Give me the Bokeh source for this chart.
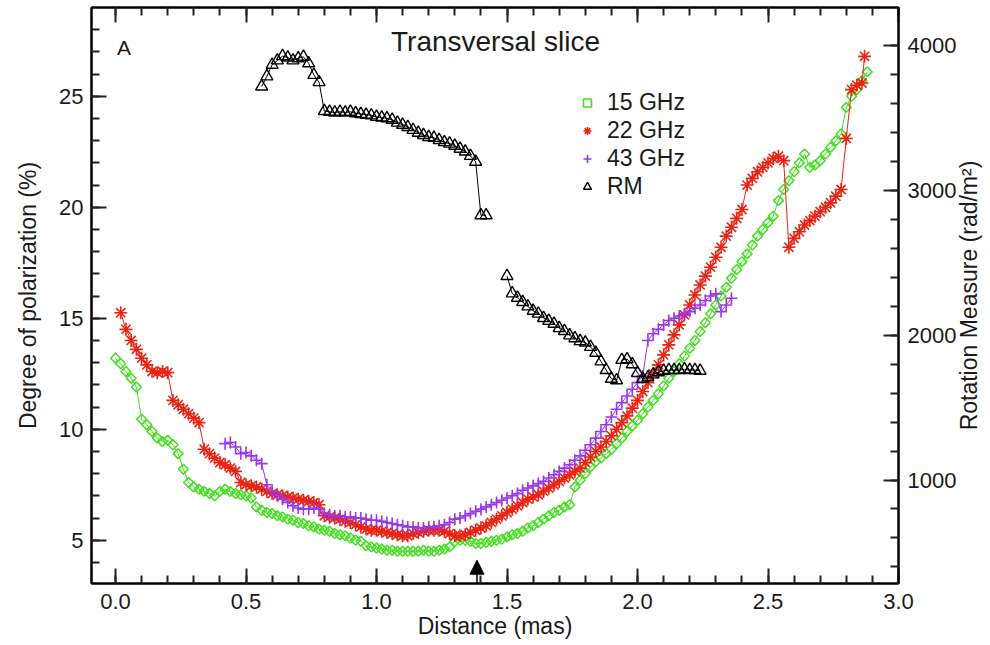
import numpy as np
from bokeh.plotting import figure
from bokeh.models import (Range1d, LinearAxis, FixedTicker, Legend, LegendItem,
                          Label, Arrow, NormalHead, CustomLabelingPolicy)
from bokeh.embed import file_html
from bokeh.resources import INLINE

# ---------------- data ----------------
x15 = [0.00,0.02,0.04,0.06,0.08,0.10,0.12,0.14,0.16,0.18,0.20,0.22,0.24,0.26,0.28,0.30,0.32,0.34,0.36,0.38,
       0.40,0.42,0.44,0.46,0.48,0.50,0.52,0.54,0.56,0.58,0.60,0.62,0.64,0.66,0.68,0.70,0.72,0.74,0.76,0.78,
       0.80,0.82,0.84,0.86,0.88,0.90,0.92,0.94,0.96,0.98,1.00,1.02,1.04,1.06,1.08,1.10,1.12,1.14,1.16,1.18,
       1.20,1.22,1.24,1.26,1.28,1.30,1.32,1.34,1.36,1.38,1.40,1.42,1.44,1.46,1.48,1.50,1.52,1.54,1.56,1.58,
       1.60,1.62,1.64,1.66,1.68,1.70,1.72,1.74,1.76,1.78,1.80,1.82,1.84,1.86,1.88,1.90,1.92,1.94,1.96,1.98,
       2.00,2.02,2.04,2.06,2.08,2.10,2.12,2.14,2.16,2.18,2.20,2.22,2.24,2.26,2.28,2.30,2.32,2.34,2.36,2.38,
       2.40,2.42,2.44,2.46,2.48,2.50,2.52,2.54,2.56,2.58,2.60,2.62,2.64,2.66,2.68,2.70,2.72,2.74,2.76,2.78,
       2.80,2.82,2.84,2.86,2.88]
pol15 = [13.2,12.95,12.6,12.3,11.9,10.45,10.2,9.9,9.6,9.45,9.5,9.3,8.9,8.2,7.6,7.4,7.3,7.2,7.1,7.0,
         7.2,7.3,7.2,7.1,7.05,7.0,6.9,6.5,6.35,6.25,6.2,6.1,6.05,5.95,5.9,5.8,5.75,5.65,5.6,5.5,
         5.45,5.4,5.3,5.25,5.2,5.1,5.0,4.95,4.75,4.7,4.65,4.6,4.55,4.55,4.5,4.5,4.5,4.5,4.5,4.55,
         4.5,4.5,4.55,4.6,4.7,4.95,5.0,5.0,4.95,4.85,4.85,4.9,4.95,5.0,5.05,5.15,5.25,5.3,5.4,5.55,
         5.65,5.8,5.95,6.1,6.25,6.35,6.5,6.6,7.4,7.7,8.0,8.3,8.55,8.7,8.9,9.1,9.35,9.6,9.9,10.15,
         10.4,10.7,11.0,11.3,11.6,11.95,12.3,12.6,12.95,13.3,13.65,14.0,14.4,14.8,15.2,15.6,16.0,16.4,16.8,17.2,
         17.55,17.9,18.3,18.7,19.0,19.3,19.6,20.3,20.8,21.2,21.6,22.0,22.4,21.8,21.9,22.1,22.4,22.7,23.0,23.3,
         24.5,25.0,25.3,25.7,26.1]

x22 = [0.02,0.04,0.06,0.08,0.10,0.12,0.14,0.16,0.18,0.20,0.22,0.24,0.26,0.28,0.30,0.32,0.34,0.36,0.38,
       0.40,0.42,0.44,0.46,0.48,0.50,0.52,0.54,0.56,0.58,0.60,0.62,0.64,0.66,0.68,0.70,0.72,0.74,0.76,0.78,
       0.80,0.82,0.84,0.86,0.88,0.90,0.92,0.94,0.96,0.98,1.00,1.02,1.04,1.06,1.08,1.10,1.12,1.14,1.16,1.18,
       1.20,1.22,1.24,1.26,1.28,1.30,1.32,1.34,1.36,1.38,1.40,1.42,1.44,1.46,1.48,1.50,1.52,1.54,1.56,1.58,
       1.60,1.62,1.64,1.66,1.68,1.70,1.72,1.74,1.76,1.78,1.80,1.82,1.84,1.86,1.88,1.90,1.92,1.94,1.96,1.98,
       2.00,2.02,2.04,2.06,2.08,2.10,2.12,2.14,2.16,2.18,2.20,2.22,2.24,2.26,2.28,2.30,2.32,2.34,2.36,2.38,
       2.40,2.42,2.44,2.46,2.48,2.50,2.52,2.54,2.56,2.58,2.60,2.62,2.64,2.66,2.68,2.70,2.72,2.74,2.76,2.78,
       2.80,2.82,2.84,2.86,2.87]
pol22 = [15.25,14.5,14.0,13.6,13.2,12.9,12.6,12.55,12.6,12.55,11.3,11.1,10.9,10.7,10.5,10.3,9.1,8.9,8.7,
         8.5,8.4,8.25,8.1,7.6,7.5,7.45,7.4,7.3,7.2,7.1,7.05,7.0,6.95,6.9,6.85,6.8,6.75,6.7,6.6,
         6.1,6.05,6.0,5.95,5.85,5.8,5.7,5.6,5.5,5.45,5.45,5.4,5.35,5.3,5.25,5.2,5.2,5.3,5.35,5.4,
         5.45,5.45,5.45,5.4,5.3,5.2,5.2,5.25,5.35,5.45,5.55,5.65,5.8,5.95,6.1,6.25,6.4,6.55,6.7,6.85,
         6.95,7.05,7.2,7.35,7.5,7.65,7.8,7.95,8.1,8.25,8.5,8.75,9.0,9.2,9.45,9.7,10.0,10.3,10.6,10.95,
         11.3,11.7,12.1,12.5,12.9,13.35,13.8,14.25,14.7,15.15,15.6,16.05,16.5,16.9,17.3,17.75,18.2,18.7,19.1,19.5,
         19.9,21.0,21.3,21.6,21.8,22.0,22.2,22.3,22.1,18.2,18.6,18.9,19.2,19.4,19.6,19.8,20.0,20.2,20.5,20.8,
         23.1,25.3,25.5,25.6,26.8]

x43 = [0.42,0.44,0.46,0.48,0.50,0.52,0.54,0.56,0.58,0.60,0.62,0.64,0.66,0.68,0.70,0.72,0.74,0.76,0.78,
       0.80,0.82,0.84,0.86,0.88,0.90,0.92,0.94,0.96,0.98,1.00,1.02,1.04,1.06,1.08,1.10,1.12,1.14,1.16,1.18,
       1.20,1.22,1.24,1.26,1.28,1.30,1.32,1.34,1.36,1.38,1.40,1.42,1.44,1.46,1.48,1.50,1.52,1.54,1.56,1.58,
       1.60,1.62,1.64,1.66,1.68,1.70,1.72,1.74,1.76,1.78,1.80,1.82,1.84,1.86,1.88,1.90,1.92,1.94,1.96,1.98,
       2.00,2.02,2.04,2.06,2.08,2.10,2.12,2.14,2.16,2.18,2.20,2.22,2.24,2.26,2.28,2.30,2.32,2.34,2.36]
pol43 = [9.35,9.4,9.2,8.9,8.95,8.8,8.6,8.45,7.5,7.2,7.0,6.85,6.7,6.55,6.45,6.4,6.4,6.45,6.4,
         6.2,6.15,6.1,6.1,6.05,6.05,6.0,6.0,5.95,5.9,5.9,5.85,5.8,5.75,5.7,5.65,5.6,5.6,5.55,5.55,
         5.6,5.6,5.65,5.7,5.8,5.95,6.0,6.1,6.2,6.3,6.4,6.5,6.6,6.7,6.8,6.9,7.0,7.1,7.25,7.35,
         7.45,7.55,7.65,7.8,7.95,8.1,8.25,8.4,8.6,8.8,9.05,9.3,9.6,9.9,10.2,10.55,10.9,11.2,11.5,11.8,
         12.1,12.4,14.0,14.3,14.5,14.7,14.9,15.0,15.1,15.2,15.3,15.45,15.6,15.8,16.0,16.1,15.3,15.6,15.9]

xrm = [0.56,0.58,0.60,0.62,0.64,0.66,0.68,0.70,0.72,0.74,0.76,0.78,0.80,0.82,0.84,0.86,0.88,0.90,0.92,0.94,
       0.96,0.98,1.00,1.02,1.04,1.06,1.08,1.10,1.12,1.14,1.16,1.18,1.20,1.22,1.24,1.26,1.28,1.30,1.32,1.34,
       1.36,1.38,1.40,1.42,1.46,
       1.50,1.52,1.54,1.56,1.58,1.60,1.62,1.64,1.66,1.68,1.70,1.72,1.74,1.76,1.78,1.80,1.82,1.84,1.86,1.88,
       1.90,1.92,1.94,1.96,1.98,2.00,2.02,2.04,2.06,2.08,2.10,2.12,2.14,2.16,2.18,2.20,2.22,2.24]
rm = [3720,3790,3870,3900,3930,3920,3900,3915,3925,3880,3800,3750,3550,3545,3540,3545,3540,3545,3535,3530,
      3525,3520,3510,3505,3500,3490,3470,3455,3440,3420,3400,3385,3370,3365,3350,3335,3325,3310,3290,3270,
      3240,3200,2830,2830,float("nan"),
      2410,2290,2260,2230,2200,2170,2150,2120,2100,2080,2050,2030,2000,1980,1960,1950,1920,1880,1820,1760,
      1700,1690,1830,1835,1800,1740,1700,1710,1730,1745,1755,1760,1760,1760,1765,1760,1760,1755]

x_major = [0.0, 0.5, 1.0, 1.5, 2.0, 2.5, 3.0]
y_major = [5, 10, 15, 20, 25]
rm_major = [1000, 2000, 3000, 4000]
arrow_x = 1.385

# ---------------- style ----------------
FONT = "Liberation Sans"
TXT = "#1a1a1a"
C15, C22, C43, CRM = "#3fe01c", "#ea2414", "#9a37e8", "#000000"

p = figure(width=990, height=645, x_range=Range1d(-0.092, 3.0), y_range=Range1d(3.05, 29.0),
           output_backend="svg", toolbar_location=None,
           min_border_left=91, min_border_right=92, min_border_top=7, min_border_bottom=62)
p.extra_y_ranges = {"rm": Range1d(285, 4266)}
p.xgrid.visible = False
p.ygrid.visible = False
p.outline_line_color = "black"
p.outline_line_width = 2
p.background_fill_color = "white"
p.border_fill_color = "white"

def style_axis(ax, major, minor, label_size="22px"):
    ax.ticker = FixedTicker(ticks=major, minor_ticks=minor)
    ax.major_tick_in = 15
    ax.major_tick_out = 0
    ax.minor_tick_in = 8
    ax.minor_tick_out = 0
    ax.major_tick_line_width = 2
    ax.minor_tick_line_width = 2
    ax.major_tick_line_color = "#222"
    ax.minor_tick_line_color = "#222"
    ax.axis_line_width = 2
    ax.axis_line_color = "black"
    ax.major_label_text_font = FONT
    ax.major_label_text_color = TXT
    ax.major_label_text_font_size = label_size
    ax.axis_label_text_font = FONT
    ax.axis_label_text_font_style = "normal"
    ax.axis_label_text_font_size = "23px"
    ax.axis_label_text_color = TXT

x_minor = [round(0.1 * i, 1) for i in range(0, 31)]
y_minor = list(range(4, 29))
rm_minor = list(range(400, 4001, 200))

xa = p.xaxis[0]
style_axis(xa, x_major, x_minor)
xa.axis_label = "Distance (mas)"
xa.major_label_standoff = 10
xa.axis_label_standoff = 1
xa.major_label_overrides = {0.0: "0.0", 1.0: "1.0", 2.0: "2.0", 3.0: "3.0"}

ya = p.yaxis[0]
style_axis(ya, y_major, y_minor)
ya.axis_label = "Degree of polarization (%)"
ya.major_label_standoff = 8
ya.axis_label_standoff = 15

# top axis: ticks only, no labels
top = LinearAxis()
style_axis(top, x_major, x_minor, label_size="1px")
top.major_label_standoff = 0
top.major_label_policy = CustomLabelingPolicy(code="""
    for (const i of indices) { indices.unset(i) }
    return indices
""")
p.add_layout(top, "above")

# right axis for the rotation measure; its title is a label placed in the right panel
ra = LinearAxis(y_range_name="rm")
style_axis(ra, rm_major, rm_minor)
ra.major_label_standoff = 9
p.add_layout(ra, "right")
p.add_layout(Label(x=3.272, y=16.025, text="Rotation Measure (rad/m²)", angle=np.pi / 2,
                   text_font=FONT, text_font_size="23px", text_color=TXT,
                   text_align="center", text_baseline="middle"), "right")

# ---------------- series ----------------
p.line(x15, pol15, line_color=C15, line_width=1)
r15 = p.scatter(x15, pol15, marker="square", angle=np.pi / 4, size=7, fill_color=None,
                line_color=C15, line_width=1.5)
p.line(x22, pol22, line_color=C22, line_width=1)
r22 = p.scatter(x22, pol22, marker="asterisk", size=13, line_color=C22, line_width=1.6)
p.line(x43, pol43, line_color=C43, line_width=1)
r43 = p.scatter(x43, pol43, marker="cross", size=12, line_color=C43, line_width=1.6)
p.line(xrm, rm, line_color=CRM, line_width=1, y_range_name="rm")
rrm = p.scatter(xrm, rm, marker="triangle", size=12, fill_color=None, line_color=CRM,
                line_width=1.4, y_range_name="rm")

# ---------------- legend ----------------
legend = Legend(items=[LegendItem(label="15 GHz", renderers=[r15]),
                       LegendItem(label="22 GHz", renderers=[r22]),
                       LegendItem(label="43 GHz", renderers=[r43]),
                       LegendItem(label="RM", renderers=[rrm])],
                location=(486, 383), orientation="vertical")
legend.background_fill_alpha = 0
legend.border_line_color = None
legend.padding = 0
legend.margin = 0
legend.glyph_width = 20
legend.glyph_height = 25
legend.label_height = 25
legend.spacing = 1
legend.label_standoff = 10
legend.label_text_font = FONT
legend.label_text_font_size = "23px"
legend.label_text_color = TXT
p.add_layout(legend, "center")

# ---------------- annotations ----------------
p.add_layout(Label(x=1.456, y=27.48, text="Transversal slice", text_font=FONT,
                   text_font_size="28px", text_color=TXT, text_align="center",
                   text_baseline="middle"))
p.add_layout(Label(x=0.006, y=27.2, text="A", text_font=FONT, text_font_size="21px",
                   text_color=TXT, text_align="left", text_baseline="middle"))
p.add_layout(Arrow(end=NormalHead(size=14, fill_color="black", line_color="black"),
                   x_start=arrow_x, y_start=3.05, x_end=arrow_x, y_end=4.1,
                   line_color="black", line_width=1.5))

open("out.html", "w").write(file_html(p, INLINE))
